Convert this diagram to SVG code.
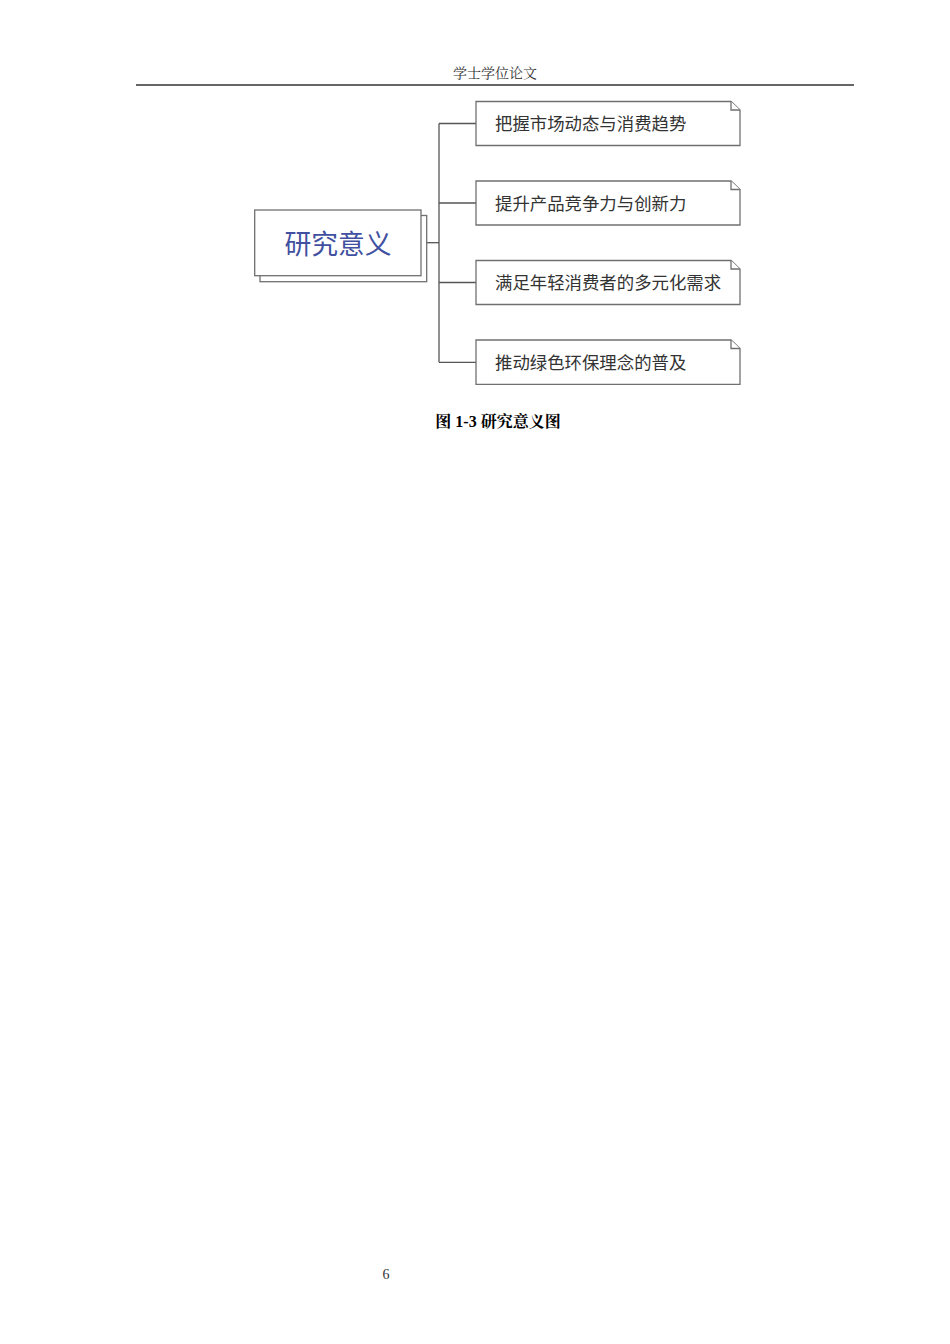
<svg xmlns="http://www.w3.org/2000/svg" width="950" height="1344" viewBox="0 0 950 1344">
<style>
.box{fill:#fff;stroke:#707070;stroke-width:1.3}
.conn{fill:none;stroke:#555;stroke-width:1.3}
.lbl{font-family:"Noto Sans CJK SC","Noto Sans",sans-serif;font-size:17.4px;fill:#333}
.main{font-family:"Noto Sans CJK SC","Noto Sans",sans-serif;font-size:26.8px;fill:#4150a0}
.serif{font-family:"Liberation Serif","Noto Serif CJK SC","Noto Sans CJK SC",serif}
</style>
<rect width="950" height="1344" fill="#fff"/>
<g id="header">
<text class="serif" x="495" y="78" font-size="14" fill="#333" text-anchor="middle">学士学位论文</text>
<line x1="136" y1="85" x2="854" y2="85" stroke="#333" stroke-width="1.5"/>
</g>
<g id="connectors">
<path class="conn" d="M426.7,242.7 H439"/>
<path class="conn" d="M439,123.5 V362.3"/>
<path class="conn" d="M439,123.5 H476 M439,203 H476 M439,282.5 H476 M439,362.3 H476"/>
</g>
<g id="root">
<rect class="box" x="260" y="215.5" width="166.7" height="66.2"/>
<rect class="box" x="254.7" y="210" width="166.3" height="65.7"/>
<text class="main" x="338" y="254" text-anchor="middle">研究意义</text>
</g>
<g id="n1">
<path class="box" d="M476,101.5 H731 L740,110 V145.5 H476 Z"/>
<path class="box" d="M731,101.5 V110 H740"/>
<text class="lbl" x="495" y="130">把握市场动态与消费趋势</text>
</g>
<g id="n2">
<path class="box" d="M476,181 H731 L740,189.5 V225 H476 Z"/>
<path class="box" d="M731,181 V189.5 H740"/>
<text class="lbl" x="495" y="209.5">提升产品竞争力与创新力</text>
</g>
<g id="n3">
<path class="box" d="M476,260.5 H731 L740,269 V304.5 H476 Z"/>
<path class="box" d="M731,260.5 V269 H740"/>
<text class="lbl" x="495" y="289">满足年轻消费者的多元化需求</text>
</g>
<g id="n4">
<path class="box" d="M476,340 H731 L740,348.5 V384.3 H476 Z"/>
<path class="box" d="M731,340 V348.5 H740"/>
<text class="lbl" x="495" y="368.5">推动绿色环保理念的普及</text>
</g>
<g id="caption">
<text class="serif" x="498" y="427" font-size="16" font-weight="bold" fill="#000" text-anchor="middle">图 1-3 研究意义图</text>
</g>
<g id="footer">
<text class="serif" x="386" y="1279" font-size="14" fill="#333" text-anchor="middle">6</text>
</g>
</svg>
